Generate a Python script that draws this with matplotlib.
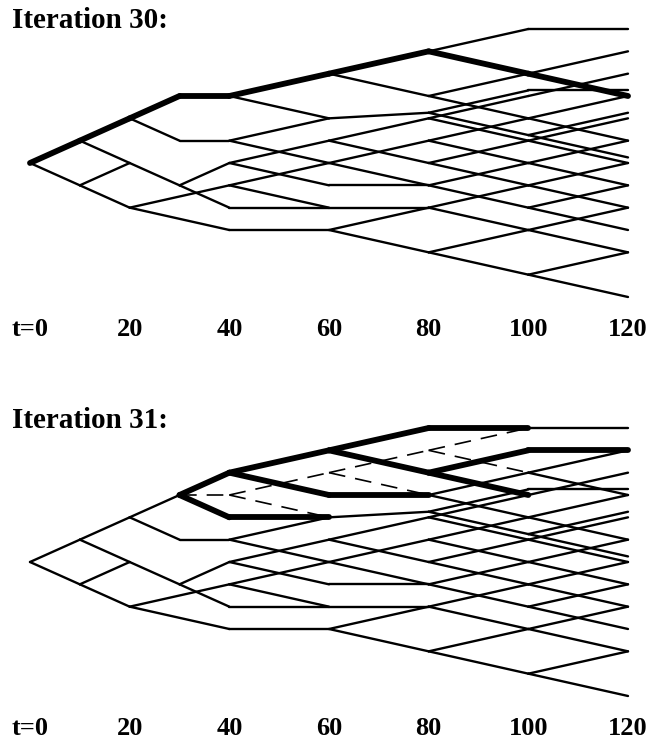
import matplotlib.pyplot as plt

plt.rcParams['font.family'] = ['Liberation Serif', 'DejaVu Serif']

# time axis labels
tick_t = [0, 20, 40, 60, 80, 100, 120]
tick_labels = ['t=0', '20', '40', '60', '80', '100', '120']

# lattice edges as (t_from, level_from, t_to, level_to)
# part of the lattice that is the same in both iterations
edges_early = [
    (0, 0, 10, -1), (10, 1, 20, 0), (10, -1, 20, 0), (10, -1, 20, -2),
    (20, 2, 30, 1), (20, 0, 30, -1), (20, -2, 40, -1), (20, -2, 40, -3),
    (30, 1, 40, 1), (30, -1, 40, 0), (30, -1, 40, -2),
]
edges_40_60 = [
    (40, 1, 60, 2), (40, 1, 60, 0), (40, 0, 60, 1), (40, 0, 60, -1),
    (40, -1, 60, 0), (40, -1, 60, -2), (40, -2, 60, -2), (40, -3, 60, -3),
]
edges_60_80 = [
    (60, 2, 80, 2.25), (60, 1, 80, 2), (60, 1, 80, 0), (60, 0, 80, 1),
    (60, 0, 80, -1), (60, -1, 80, -1), (60, -2, 80, -2), (60, -3, 80, -2),
    (60, -3, 80, -4),
]
edges_80_100 = [
    (80, 3, 100, 4), (80, 3, 100, 2), (80, 2.25, 100, 3.25), (80, 2.25, 100, 1.25),
    (80, 2, 100, 3), (80, 2, 100, 1), (80, 1, 100, 2), (80, 1, 100, 0),
    (80, 0, 100, 1), (80, 0, 100, -1), (80, -1, 100, 0), (80, -1, 100, -2),
    (80, -2, 100, -1), (80, -2, 100, -3), (80, -4, 100, -3), (80, -4, 100, -5),
]
edges_100_120 = [
    (100, 6, 120, 6), (100, 4, 120, 5), (100, 3.25, 120, 3.25), (100, 3, 120, 4),
    (100, 2, 120, 3), (100, 2, 120, 1), (100, 1.25, 120, 0.25), (100, 1.25, 120, 2.25),
    (100, 1, 120, 2), (100, 1, 120, 0), (100, 0, 120, 1), (100, 0, 120, -1),
    (100, -1, 120, 0), (100, -1, 120, -2), (100, -2, 120, -1), (100, -2, 120, -3),
    (100, -3, 120, -2), (100, -3, 120, -4), (100, -5, 120, -4), (100, -5, 120, -6),
]

# iteration 30
it30_thin = [(40, 3, 60, 2), (60, 4, 80, 3), (80, 5, 100, 6)]
it30_thick = [(0, 0, 10, 1), (10, 1, 20, 2), (20, 2, 30, 3), (30, 3, 40, 3),
              (40, 3, 60, 4), (60, 4, 80, 5), (80, 5, 100, 4), (100, 4, 120, 3)]

# iteration 31
it31_thin = [(0, 0, 10, 1), (10, 1, 20, 2), (20, 2, 30, 3), (100, 4, 120, 3)]
it31_thick = [(30, 3, 40, 4), (30, 3, 40, 2), (40, 4, 60, 5), (40, 4, 60, 3),
              (40, 2, 60, 2), (60, 5, 80, 6), (60, 5, 80, 4), (60, 3, 80, 3),
              (80, 6, 100, 6), (80, 4, 100, 5), (80, 4, 100, 3), (100, 5, 120, 5)]
it31_dashed = [(30, 3, 40, 3), (40, 3, 60, 4), (40, 3, 60, 2), (60, 4, 80, 5),
               (60, 4, 80, 3), (80, 5, 100, 6), (80, 5, 100, 4)]

base = edges_early + edges_40_60 + edges_60_80 + edges_80_100 + edges_100_120


def draw(ax, segs, **kw):
    for t0, k0, t1, k1 in segs:
        ax.plot([t0, t1], [k0, k1], color='black', clip_on=False,
                solid_capstyle='round', solid_joinstyle='round', **kw)


fig = plt.figure(figsize=(6.58, 7.45), dpi=100)
W, H = 658, 745

panels = [
    ('Iteration 30:', 297, 20, it30_thin, it30_thick, []),
    ('Iteration 31:', 696, 420, it31_thin, it31_thick, it31_dashed),
]

for title, bottom_px, title_px, thin, thick, dashed in panels:
    ax = fig.add_axes([30 / W, (H - bottom_px) / H, 598 / W, 268 / H])
    ax.set_xlim(0, 120)
    ax.set_ylim(-6, 6)
    ax.axis('off')
    draw(ax, base + thin, lw=1.7)
    draw(ax, dashed, lw=1.2, linestyle=(0, (10, 6)))
    draw(ax, thick, lw=4.2)
    for t, lab in zip(tick_t, tick_labels):
        ax.text(t, -7.45, lab, ha='center', va='center', fontsize=19,
                fontweight='bold', clip_on=False)
    fig.text(12 / W, 1 - title_px / H, title, ha='left', va='center',
             fontsize=21, fontweight='bold')

fig.savefig('out.png', dpi=100)
